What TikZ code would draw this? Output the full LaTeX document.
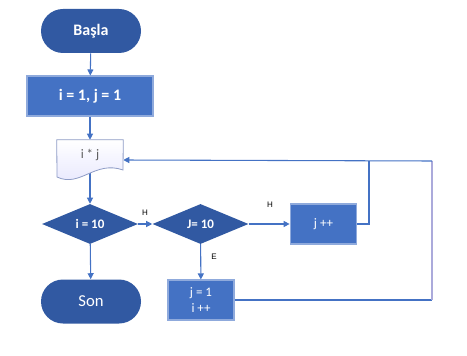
\documentclass[tikz,border=0pt]{standalone}
\usepackage{fontspec}
\setmainfont{Carlito}
\newfontfamily\labelfont{Liberation Sans}
\usetikzlibrary{shapes.geometric,arrows.meta}
\definecolor{darkb}{HTML}{3159A2}
\definecolor{midb}{HTML}{4472C4}
\definecolor{edgeb}{HTML}{8FAADC}
\definecolor{lineb}{HTML}{4472C4}
\definecolor{lav}{HTML}{ABAADB}
\definecolor{docedge}{HTML}{8E9CC6}
\definecolor{doctxt}{HTML}{5A5A5A}
\begin{document}
\begin{tikzpicture}[x=0.75pt,y=-0.75pt,
  term/.style={fill=darkb,draw=none,rounded corners=16.5pt,minimum width=75pt,minimum height=33pt,text=white,font=\fontsize{12.5}{14}\selectfont,inner sep=0pt},
  procbox/.style={fill=midb,draw=edgeb,line width=0.8pt,text=white,inner sep=0pt,align=center},
  decide/.style={diamond,fill=darkb,draw=none,aspect=2.4,minimum width=72pt,minimum height=30pt,inner sep=0pt,text=white,font=\fontsize{9.75}{11}\selectfont\bfseries},
  flow/.style={draw=lineb,line width=0.8pt},
  arr/.style={flow,-{Triangle[length=4.5pt,width=4.5pt]}},
  lbl/.style={font=\labelfont\fontsize{6}{7}\selectfont,text=black,inner sep=0pt}]
\useasboundingbox (0,0) rectangle (467,356);
% nodes
\node[term,font=\fontsize{12}{14}\selectfont\bfseries] (start) at (91,31) {Başla};
\node[procbox,minimum width=94.5pt,minimum height=30pt,font=\fontsize{12}{14}\selectfont\bfseries] (init) at (90,96) {i = 1, j = 1};
\node[draw=none,minimum width=49.5pt,minimum height=30pt,inner sep=0pt] (doc) at (90,160) {};
\node[decide] (d1) at (90,224) {i = 10};
\node[decide] (d2) at (200.5,224) {J= 10};
\node[procbox,minimum width=50pt,minimum height=30pt,font=\fontsize{9.75}{11}\selectfont] (jpp) at (323.5,224) {j ++};
\node[term] (son) at (91,301.5) {Son};
\node[procbox,minimum width=49.5pt,minimum height=30pt,font=\fontsize{9.75}{11}\selectfont,text depth=0pt] (reset) at (201,300) {j = 1\\[1pt]i ++};
\coordinate (k1) at (369,161);
\coordinate (k2) at (432,161);
% connectors
\draw[arr] (start) -- (init);
\draw[arr] (init) -- (doc.north);
\draw[arr] (doc.center) -- (d1.north);
\draw[arr] (d1) -- (son);
\draw[arr] (d1) -- (d2);
\draw[arr] (d2) -- (jpp);
\draw[arr] (d2) -- (reset);
\draw[flow] (jpp.east) -| (k1);
\draw[flow] (reset.east) -- (k2 |- reset.east);
\draw[draw=lav,line width=0.8pt] (k2 |- reset.east) -- (k2);
\draw[arr] (k2) -- (doc.east);
% document shape
\shade[top color=white,bottom color=black!4!blue!10!white,draw=docedge,line width=0.6pt]
  (doc.north west) -- (doc.north east) -- (123,170)
  .. controls (95,160) and (80,188) .. (57,177) -- cycle;
\node[text=doctxt,font=\fontsize{9.75}{11}\selectfont,inner sep=0pt] (doctext) at (90,155) {i * j};
% labels
\node[lbl] (lh1) at (145,213) {H};
\node[lbl] (lh2) at (270,205) {H};
\node[lbl] (le) at (214,257) {E};
\end{tikzpicture}
\end{document}
